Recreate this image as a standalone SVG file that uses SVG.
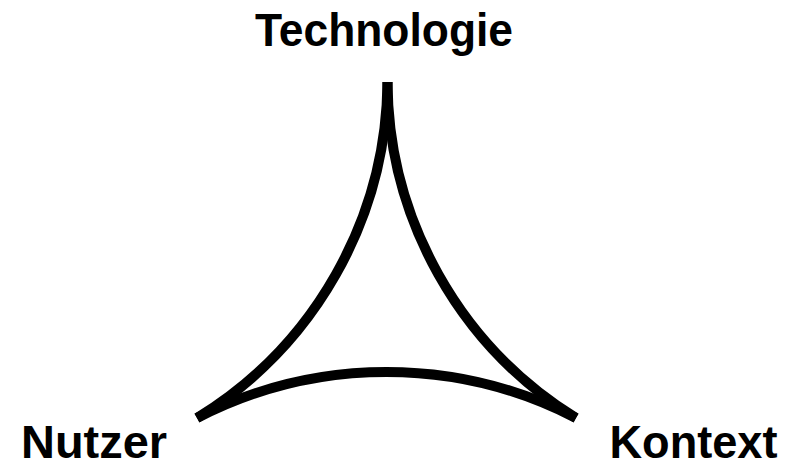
<svg xmlns="http://www.w3.org/2000/svg" width="797" height="468" viewBox="0 0 797 468">
  <style>
    .lbl { font-family: "Liberation Sans", Arial, sans-serif; font-weight: bold; font-size: 46px; fill: #000; text-anchor: middle; }
    .edge { fill: none; stroke: #000; stroke-width: 10; stroke-linecap: butt; }
  </style>
  <rect width="797" height="468" fill="#fff"/>
  <g id="connectors">
    <path class="edge" d="M 387.5 82 A 398 398 0 0 1 197 418"/>
    <path class="edge" d="M 197 418 A 413 413 0 0 1 576 418"/>
    <path class="edge" d="M 576 418 A 398 398 0 0 1 387.5 82"/>
  </g>
  <g id="node-technologie">
    <text class="lbl" x="384" y="46" textLength="258" lengthAdjust="spacingAndGlyphs">Technologie</text>
  </g>
  <g id="node-nutzer">
    <text class="lbl" x="94" y="458" textLength="146" lengthAdjust="spacingAndGlyphs">Nutzer</text>
  </g>
  <g id="node-kontext">
    <text class="lbl" x="693.5" y="458" textLength="168" lengthAdjust="spacingAndGlyphs">Kontext</text>
  </g>
</svg>
